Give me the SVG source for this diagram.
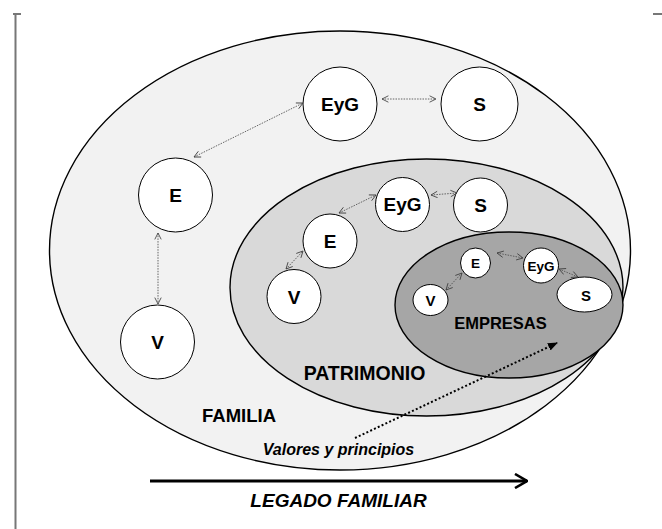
<svg xmlns="http://www.w3.org/2000/svg" width="662" height="529" viewBox="0 0 662 529">
<style>
.node{fill:#ffffff;stroke:#000;stroke-width:1}
.lbl{font-family:"Liberation Sans",Arial,sans-serif;font-weight:bold;fill:#000;text-anchor:middle}
.big{font-size:19px}
.small{font-size:13.5px}
.con{fill:none;stroke:#555;stroke-width:0.9;stroke-dasharray:1.5,1.2;marker-start:url(#ah);marker-end:url(#ah)}
.area{stroke:#000;stroke-width:1.4}
</style>
<defs>
<marker id="ah" viewBox="0 0 10 10" refX="9" refY="5" markerWidth="8" markerHeight="8" markerUnits="userSpaceOnUse" orient="auto-start-reverse">
<path d="M1,1 L9,5 L1,9" fill="none" stroke="#444" stroke-width="1.1"/>
</marker>
<marker id="dotHead" viewBox="0 0 10 10" refX="9" refY="5" markerWidth="10" markerHeight="10" markerUnits="userSpaceOnUse" orient="auto">
<path d="M0,1 L10,5 L0,9 Z" fill="#000"/>
</marker>
<marker id="bigHead" viewBox="0 0 14 16" refX="13" refY="8" markerWidth="14" markerHeight="16" markerUnits="userSpaceOnUse" orient="auto">
<path d="M1,1 L13,8 L1,15" fill="none" stroke="#000" stroke-width="2.6"/>
</marker>
</defs>
<g id="frame" stroke="#777" stroke-width="2" fill="none">
<path d="M15.5,14 V529"/>
<path d="M13,14 H21"/>
<path d="M653,14 H662"/>
</g>
<g id="familia">
<ellipse class="area" cx="340" cy="250.5" rx="290.5" ry="219.5" fill="#f2f2f2"/>
<text class="lbl" x="239" y="422" style="font-size:18.5px">FAMILIA</text>
</g>
<g id="patrimonio">
<ellipse class="area" cx="426.5" cy="287.5" rx="196.5" ry="128.5" fill="#d9d9d9"/>
<text class="lbl" x="364.5" y="380" style="font-size:19.5px">PATRIMONIO</text>
</g>
<g id="empresas">
<ellipse class="area" cx="509" cy="305" rx="114" ry="73" fill="#a6a6a6"/>
<text class="lbl" x="500.5" y="329" style="font-size:16.5px">EMPRESAS</text>
</g>
<g id="f-EyG"><circle class="node" cx="340" cy="104" r="37"/><text class="lbl big" x="340" y="111">EyG</text></g>
<g id="f-S"><ellipse class="node" cx="479.5" cy="104" rx="38.5" ry="37"/><text class="lbl big" x="479.5" y="110.5">S</text></g>
<g id="f-E"><circle class="node" cx="175.5" cy="195" r="37"/><text class="lbl big" x="175.5" y="202">E</text></g>
<g id="f-V"><circle class="node" cx="157.5" cy="342" r="37"/><text class="lbl big" x="157.5" y="349">V</text></g>
<g id="p-EyG"><circle class="node" cx="402.5" cy="204.5" r="27"/><text class="lbl big" x="402.5" y="211">EyG</text></g>
<g id="p-S"><circle class="node" cx="480.5" cy="205" r="27"/><text class="lbl big" x="480.5" y="211.5">S</text></g>
<g id="p-E"><circle class="node" cx="330" cy="241" r="27"/><text class="lbl big" x="330" y="248">E</text></g>
<g id="p-V"><circle class="node" cx="294" cy="296.5" r="27"/><text class="lbl big" x="294" y="303.5">V</text></g>
<g id="e-E"><circle class="node" cx="475.5" cy="263" r="15"/><text class="lbl small" x="475.5" y="268">E</text></g>
<g id="e-EyG"><circle class="node" cx="541" cy="265.5" r="17.5"/><text class="lbl small" x="541" y="270.5">EyG</text></g>
<g id="e-V"><ellipse class="node" cx="430.5" cy="300" rx="17.5" ry="15.5"/><text class="lbl" x="430.5" y="305.5" style="font-size:15px">V</text></g>
<g id="e-S"><ellipse class="node" cx="584.5" cy="294.5" rx="27.5" ry="17.5"/><text class="lbl" x="586" y="300.5" style="font-size:15px">S</text></g>
<g id="connectors">
<path class="con" d="M382,99 L436,99"/>
<path class="con" d="M194,157 L303,103"/>
<path class="con" d="M158,233 L158,304"/>
<path class="con" d="M339,213 L376,195"/>
<path class="con" d="M286,269 L303,251"/>
<path class="con" d="M431,195 L457,193"/>
<path class="con" d="M497,253 L523,258"/>
<path class="con" d="M446,290 L462,273"/>
<path class="con" d="M559,269 L578,277"/>
<path d="M355,438 L557,343" fill="none" stroke="#000" stroke-width="2" stroke-dasharray="2,2.2" marker-end="url(#dotHead)"/>
<path d="M150,481 L527,481" fill="none" stroke="#000" stroke-width="3" marker-end="url(#bigHead)"/>
</g>
<text x="338.5" y="455" style="font-family:'Liberation Sans',Arial,sans-serif;font-weight:bold;font-style:italic;font-size:16px;text-anchor:middle">Valores y principios</text>
<text x="338.5" y="507" style="font-family:'Liberation Sans',Arial,sans-serif;font-weight:bold;font-style:italic;font-size:19px;text-anchor:middle">LEGADO FAMILIAR</text>
</svg>
